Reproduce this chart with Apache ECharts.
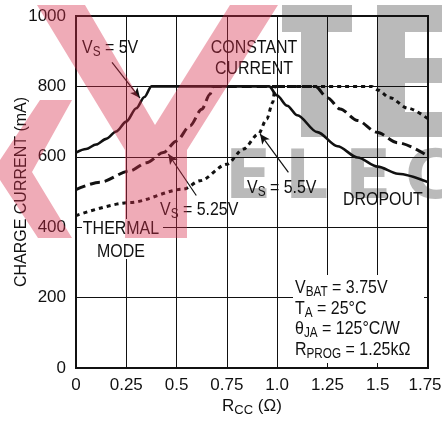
<!DOCTYPE html>
<html>
<head>
<meta charset="utf-8">
<script src="https://cdn.jsdelivr.net/npm/echarts@6/dist/echarts.min.js"></script>
<style>
  html, body { margin: 0; padding: 0; background: #fff; }
  #chart { width: 442px; height: 424px; }
</style>
</head>
<body>
<div id="chart"></div>
<script>
// tick labels
const xTickLabels = ['0', '0.25', '0.5', '0.75', '1.0', '1.25', '1.5', '1.75'];
const yTicks = [0, 200, 400, 600, 800, 1000];

// V_S = 5V (solid)
const vs5X = [0, 0.05, 0.1, 0.15, 0.2, 0.25, 0.3, 0.34, 0.375, 0.96, 1.0, 1.05, 1.1, 1.2, 1.3, 1.4, 1.5, 1.6, 1.75];
const vs5Y = [612, 622, 635, 651, 672, 700, 738, 770, 800, 800, 774, 745, 718, 670, 630, 598, 572, 552, 528];

// V_S = 5.25V (dashed)
const vs525X = [0, 0.12, 0.268, 0.35, 0.434, 0.5, 0.567, 0.625, 0.666, 0.683, 1.19, 1.25, 1.313, 1.4, 1.495, 1.6, 1.75];
const vs525Y = [507, 528, 560, 583, 612, 645, 688, 735, 778, 800, 800, 768, 736, 703, 670, 640, 602];

// V_S = 5.5V (dotted)
const vs55X = [0, 0.268, 0.534, 0.617, 0.75, 0.832, 0.906, 0.948, 0.978, 0.99, 1.47, 1.5, 1.56, 1.65, 1.75];
const vs55Y = [433, 470, 508, 532, 579, 622, 664, 707, 754, 800, 800, 790, 768, 738, 708];

const FONT = '"Liberation Sans", Arial, sans-serif';
const INK = '#111';
// no narrow font installed, so squeeze the notes by hand
const SQ = 0.84;

const zip = (xs, ys) => xs.map((x, i) => [x, ys[i]]);

const rich = {
  n: { fontSize: 19, fontFamily: FONT, color: INK },
  s: { fontSize: 14, fontFamily: FONT, color: INK, padding: [9, 0, 0, 0] }
};
const richAxis = {
  n: { fontSize: 17, fontFamily: FONT, color: INK },
  s: { fontSize: 13, fontFamily: FONT, color: INK, padding: [8, 0, 0, 0] }
};

// arrows from labels to curves (data coords)
const arrows = [
  [[0.179, 868], [0.318, 767]],
  [[0.598, 490], [0.459, 608]],
  [[1.056, 556], [0.915, 665]]
];

const chart = echarts.init(document.getElementById('chart'));

function txt(x, y, text, style) {
  return {
    type: 'text', x: x, y: y, z: 20, silent: true, scaleX: SQ,
    style: Object.assign({ text: text, rich: rich, font: '19px ' + FONT, fill: INK, verticalAlign: 'middle' }, style || {})
  };
}

const pink = 'rgba(215,45,75,0.4)';
const gray = 'rgba(140,140,140,0.6)';
const wmFont = 'bold 68px "DejaVu Sans"';

const option = {
  animation: false,
  backgroundColor: '#fff',
  grid: {
    left: 76, right: 14, top: 16, bottom: 56, outerBoundsMode: 'none', containLabel: false,
    show: true, borderColor: INK, borderWidth: 2
  },
  xAxis: {
    type: 'value', min: 0, max: 1.75, interval: 0.25,
    axisLine: { show: false }, axisTick: { show: false },
    splitLine: { lineStyle: { color: INK, width: 1 } },
    axisLabel: {
      fontSize: 17, fontFamily: FONT, color: INK, margin: 9,
      formatter: v => {
        const i = Math.round(v / 0.25);
        return i === xTickLabels.length - 1 ? '{last|' + xTickLabels[i] + '}' : xTickLabels[i];
      },
      rich: { last: { fontSize: 17, fontFamily: FONT, color: INK, padding: [0, 6, 0, 0] } }
    },
    name: '{n|R}{s|CC}{n| (Ω)}', nameLocation: 'middle', nameGap: 28, nameMoveOverlap: false,
    nameTextStyle: { rich: richAxis }
  },
  yAxis: {
    type: 'value', min: 0, max: 1000, interval: 200,
    axisLine: { show: false }, axisTick: { show: false },
    splitLine: { lineStyle: { color: INK, width: 1 } },
    axisLabel: { fontSize: 17, fontFamily: FONT, color: INK, margin: 10, formatter: v => String(v) },
    name: 'CHARGE CURRENT (mA)', nameLocation: 'middle', nameGap: 46, nameMoveOverlap: false,
    nameTextStyle: { fontSize: 16, fontFamily: FONT, color: INK }
  },
  series: [
    {
      type: 'line', data: zip(vs5X, vs5Y), symbol: 'none', smooth: 0.3, smoothMonotone: 'x',
      lineStyle: { color: INK, width: 2.6 }, z: 4
    },
    {
      type: 'line', data: zip(vs525X, vs525Y), symbol: 'none', smooth: 0.3, smoothMonotone: 'x',
      lineStyle: { color: INK, width: 3, type: [10, 5] }, z: 3
    },
    {
      type: 'line', data: zip(vs55X, vs55Y), symbol: 'none', smooth: 0.3, smoothMonotone: 'x',
      lineStyle: { color: INK, width: 3, type: [4, 4] }, z: 3
    },
    {
      type: 'line', data: [], z: 5,
      markLine: {
        silent: true, animation: false,
        symbol: ['none', 'arrow'], symbolSize: [7, 10],
        label: { show: false },
        lineStyle: { color: INK, width: 1.2, type: 'solid' },
        data: arrows.map(a => [{ coord: a[0] }, { coord: a[1] }])
      }
    }
  ],
  graphic: [
    // watermark, grey letters behind
    { type: 'rect', z: -1, silent: true, shape: { x: 282, y: 5, width: 70, height: 27 }, style: { fill: gray } },
    { type: 'rect', z: -1, silent: true, shape: { x: 301, y: 32, width: 27, height: 105 }, style: { fill: gray } },
    { type: 'rect', z: -1, silent: true, shape: { x: 377, y: 5, width: 65, height: 27 }, style: { fill: gray } },
    { type: 'rect', z: -1, silent: true, shape: { x: 377, y: 32, width: 28, height: 105 }, style: { fill: gray } },
    { type: 'rect', z: -1, silent: true, shape: { x: 405, y: 58, width: 37, height: 25 }, style: { fill: gray } },
    { type: 'rect', z: -1, silent: true, shape: { x: 405, y: 112, width: 37, height: 25 }, style: { fill: gray } },
    { type: 'text', z: -1, silent: true, x: 225, y: 214, style: { text: 'E', font: wmFont, fill: gray, verticalAlign: 'bottom' } },
    { type: 'text', z: -1, silent: true, x: 285, y: 214, style: { text: 'L', font: wmFont, fill: gray, verticalAlign: 'bottom' } },
    { type: 'text', z: -1, silent: true, x: 345, y: 214, style: { text: 'E', font: wmFont, fill: gray, verticalAlign: 'bottom' } },
    { type: 'text', z: -1, silent: true, x: 405, y: 214, style: { text: 'C', font: wmFont, fill: gray, verticalAlign: 'bottom' } },
    // white boxes behind notes
    { type: 'rect', z: 1, silent: true, shape: { x: 82, y: 219, width: 81, height: 40 }, style: { fill: '#fff' } },
    { type: 'rect', z: 1, silent: true, shape: { x: 293, y: 275, width: 131, height: 88 }, style: { fill: '#fff' } },
    // notes
    txt(82, 48, '{n|V}{s|S}{n| = 5V}'),
    txt(254, 58, 'CONSTANT\nCURRENT', { rich: null, align: 'center', lineHeight: 21 }),
    txt(160, 210, '{n|V}{s|S}{n| = 5.25V}'),
    txt(247, 188, '{n|V}{s|S}{n| = 5.5V}'),
    txt(343, 200, 'DROPOUT', { rich: null }),
    txt(121, 240, 'THERMAL\nMODE', { rich: null, align: 'center', lineHeight: 23 }),
    txt(295, 288, '{n|V}{s|BAT}{n| = 3.75V}'),
    txt(295, 309, '{n|T}{s|A}{n| = 25°C}'),
    txt(295, 329, '{n|θ}{s|JA}{n| = 125°C/W}'),
    txt(295, 350, '{n|R}{s|PROG}{n| = 1.25kΩ}'),
    // pink logo overlay on top
    { type: 'polygon', z: 100, silent: true,
      shape: { points: [[37, 5], [85, 5], [155, 125], [230, 5], [278, 5], [187, 150], [187, 238], [125, 238], [125, 150]] },
      style: { fill: pink } },
    { type: 'polygon', z: 100, silent: true,
      shape: { points: [[40, 100], [72, 100], [32, 172], [72, 238], [38, 238], [0, 180], [0, 160]] },
      style: { fill: pink } }
  ]
};

chart.setOption(option);
</script>
</body>
</html>
